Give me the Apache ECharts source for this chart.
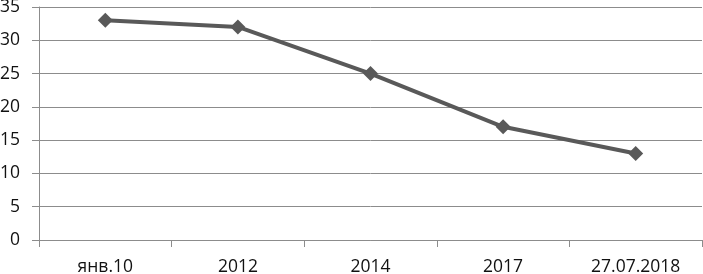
<!DOCTYPE html>
<html><head><meta charset="utf-8">
<script src="https://cdn.jsdelivr.net/npm/echarts@6/dist/echarts.min.js"></script>
<style>html,body{margin:0;padding:0;background:#fff}#c{width:703px;height:274px}</style>
</head><body><div id="c"></div>
<script>
const categories = ['янв.10', '2012', '2014', '2017', '27.07.2018'];
const values = [33, 32, 25, 17, 13];
const yTicks = [0, 5, 10, 15, 20, 25, 30, 35];

const chart = echarts.init(document.getElementById('c'), null, {renderer: 'canvas'});
chart.setOption({
  animation: false,
  backgroundColor: '#fff',
  grid: {left: 39, right: 1, top: 7, bottom: 34, containLabel: false, outerBoundsMode: 'none'},
  xAxis: {
    type: 'category',
    data: categories,
    boundaryGap: true,
    axisLine: {lineStyle: {color: '#8c8c8c', width: 1}},
    axisTick: {show: true, length: 7, alignWithLabel: false, lineStyle: {color: '#8c8c8c'}},
    axisLabel: {color: '#111', fontSize: 17.5, fontFamily: 'Open Sans', margin: 18}
  },
  yAxis: {
    type: 'value',
    min: yTicks[0], max: yTicks[yTicks.length - 1], interval: 5,
    axisLine: {show: true, lineStyle: {color: '#8c8c8c', width: 1}},
    axisTick: {show: true, length: 7, lineStyle: {color: '#8c8c8c'}},
    splitLine: {lineStyle: {color: '#8c8c8c', width: 1}},
    axisLabel: {color: '#111', fontSize: 17.5, fontFamily: 'Open Sans', margin: 19}
  },
  series: [{
    type: 'line',
    data: values,
    symbol: 'diamond',
    symbolSize: 15,
    lineStyle: {color: '#595959', width: 4},
    itemStyle: {color: '#595959'}
  }]
});
</script></body></html>
